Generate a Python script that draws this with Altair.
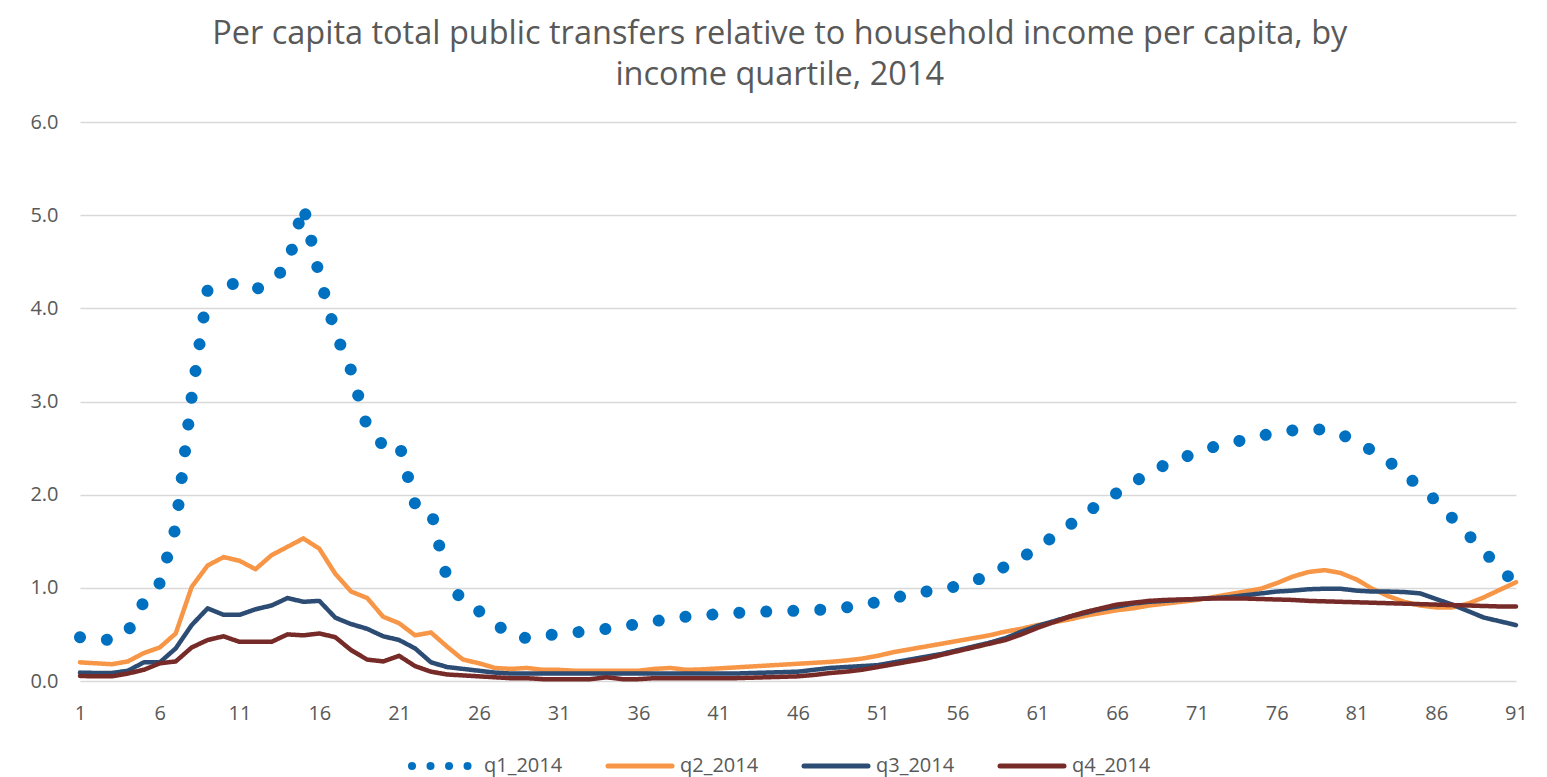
import altair as alt
import pandas as pd

# ---------------- data ----------------
categories = list(range(1, 92))

q1_2014 = [0.47, 0.45, 0.44, 0.53, 0.85, 1.05, 1.65, 3.05, 4.20, 4.25,
           4.27, 4.20, 4.30, 4.45, 5.10, 4.35, 3.74, 3.33, 2.72, 2.53,
           2.55, 1.90, 1.83, 1.10, 0.85, 0.75, 0.62, 0.49, 0.46, 0.49,
           0.50, 0.52, 0.54, 0.56, 0.59, 0.61, 0.64, 0.67, 0.69, 0.70,
           0.72, 0.73, 0.74, 0.745, 0.75, 0.755, 0.76, 0.77, 0.79, 0.81,
           0.85, 0.89, 0.93, 0.96, 0.98, 1.02, 1.07, 1.14, 1.23, 1.32,
           1.43, 1.55, 1.67, 1.80, 1.91, 2.02, 2.13, 2.23, 2.32, 2.39,
           2.45, 2.51, 2.55, 2.59, 2.63, 2.67, 2.69, 2.70, 2.70, 2.65,
           2.57, 2.47, 2.36, 2.22, 2.08, 1.93, 1.75, 1.57, 1.39, 1.21,
           1.04]

q2_2014 = [0.20, 0.19, 0.18, 0.21, 0.30, 0.36, 0.51, 1.01, 1.24, 1.33,
           1.29, 1.20, 1.35, 1.44, 1.53, 1.42, 1.15, 0.96, 0.89, 0.69,
           0.62, 0.49, 0.52, 0.37, 0.23, 0.19, 0.14, 0.13, 0.14, 0.12,
           0.12, 0.11, 0.11, 0.11, 0.11, 0.11, 0.13, 0.14, 0.12, 0.125,
           0.135, 0.145, 0.155, 0.165, 0.175, 0.185, 0.195, 0.205, 0.22, 0.24,
           0.27, 0.31, 0.34, 0.37, 0.40, 0.43, 0.46, 0.49, 0.53, 0.56,
           0.60, 0.63, 0.66, 0.70, 0.73, 0.76, 0.78, 0.81, 0.83, 0.85,
           0.87, 0.90, 0.93, 0.96, 0.99, 1.05, 1.12, 1.17, 1.19, 1.16,
           1.09, 0.99, 0.91, 0.85, 0.81, 0.79, 0.79, 0.83, 0.90, 0.98,
           1.06]

q3_2014 = [0.09, 0.086, 0.086, 0.11, 0.20, 0.20, 0.35, 0.60, 0.78, 0.71,
           0.71, 0.77, 0.81, 0.89, 0.85, 0.86, 0.68, 0.61, 0.56, 0.48,
           0.44, 0.35, 0.20, 0.15, 0.13, 0.11, 0.09, 0.08, 0.08, 0.08,
           0.08, 0.08, 0.08, 0.08, 0.08, 0.08, 0.08, 0.08, 0.08, 0.08,
           0.08, 0.08, 0.085, 0.09, 0.095, 0.10, 0.12, 0.14, 0.15, 0.16,
           0.17, 0.20, 0.23, 0.26, 0.29, 0.33, 0.37, 0.41, 0.46, 0.53,
           0.59, 0.64, 0.69, 0.73, 0.77, 0.80, 0.83, 0.85, 0.86, 0.87,
           0.88, 0.89, 0.90, 0.92, 0.94, 0.96, 0.97, 0.985, 0.99, 0.99,
           0.97, 0.96, 0.96, 0.955, 0.94, 0.88, 0.82, 0.75, 0.68, 0.64,
           0.60]

q4_2014 = [0.054, 0.05, 0.05, 0.08, 0.12, 0.19, 0.21, 0.36, 0.44, 0.48,
           0.42, 0.42, 0.42, 0.50, 0.49, 0.51, 0.47, 0.33, 0.23, 0.21,
           0.27, 0.16, 0.10, 0.07, 0.06, 0.05, 0.04, 0.03, 0.03, 0.02,
           0.02, 0.02, 0.02, 0.04, 0.02, 0.02, 0.03, 0.03, 0.03, 0.03,
           0.03, 0.03, 0.035, 0.04, 0.045, 0.05, 0.065, 0.085, 0.10, 0.12,
           0.15, 0.18, 0.21, 0.24, 0.28, 0.32, 0.36, 0.40, 0.44, 0.50,
           0.57, 0.63, 0.69, 0.74, 0.78, 0.82, 0.84, 0.86, 0.87, 0.875,
           0.88, 0.885, 0.885, 0.885, 0.88, 0.875, 0.87, 0.86, 0.855, 0.85,
           0.845, 0.84, 0.835, 0.83, 0.825, 0.82, 0.815, 0.81, 0.805, 0.80,
           0.80]

series_names = ["q1_2014", "q2_2014", "q3_2014", "q4_2014"]
x_tick_values = list(range(1, 92, 5))
y_tick_values = [0, 1, 2, 3, 4, 5, 6]

title_line1 = "Per capita total public transfers relative to household income per capita, by"
title_line2 = "income quartile, 2014"

# ---------------- styling ----------------
series_colors = ["#0070C0", "#F79646", "#2C4C74", "#772B29"]
dash_range = [[0.01, 27], [1, 0], [1, 0], [1, 0]]
legend_dash_range = [[0.01, 18.5], [1, 0], [1, 0], [1, 0]]
width_range = [12, 4.5, 4.5, 4.5]
legend_width_range = [8, 5, 5, 5]
text_color = "#595959"
font = "Open Sans"

rows = []
for name, vals in zip(series_names, [q1_2014, q2_2014, q3_2014, q4_2014]):
    for c, v in zip(categories, vals):
        rows.append({"age": c, "value": v, "series": name})
df = pd.DataFrame(rows)

color_enc = alt.Color("series:N", scale=alt.Scale(domain=series_names, range=series_colors), legend=None)

lines = alt.Chart(df).mark_line(strokeCap="round", strokeJoin="round").encode(
    x=alt.X("age:Q",
            scale=alt.Scale(domain=[1, 91], nice=False, zero=False),
            axis=alt.Axis(values=x_tick_values, title=None, grid=False, domain=False,
                          ticks=False, tickSize=0, labelFlush=False, labelPadding=22,
                          labelFontSize=20, labelColor=text_color, labelFont=font)),
    y=alt.Y("value:Q",
            scale=alt.Scale(domain=[0, 6], nice=False),
            axis=alt.Axis(values=y_tick_values, format=".1f", title=None, domain=False,
                          ticks=False, tickSize=0, gridColor="#D9D9D9", gridWidth=1.5,
                          labelPadding=22, minExtent=64, maxExtent=64,
                          labelFontSize=20, labelColor=text_color, labelFont=font)),
    color=color_enc,
    strokeDash=alt.StrokeDash("series:N", scale=alt.Scale(domain=series_names, range=dash_range), legend=None),
    strokeWidth=alt.StrokeWidth("series:N", scale=alt.Scale(type="ordinal", domain=series_names, range=width_range), legend=None),
).properties(width=1436, height=559)

# ---------------- legend (drawn as its own small panel) ----------------
leg_df = pd.DataFrame({"series": series_names})
leg_x = alt.X("series:N", scale=alt.Scale(type="point", domain=series_names, range=[332, 920], padding=0), axis=None)
leg_base = alt.Chart(leg_df).encode(x=leg_x, y=alt.value(10))
leg_w = alt.StrokeWidth("series:N", scale=alt.Scale(type="ordinal", domain=series_names, range=legend_width_range), legend=None)
leg_dash = alt.StrokeDash("series:N", scale=alt.Scale(domain=series_names, range=legend_dash_range), legend=None)

leg_dots = leg_base.transform_filter(alt.datum.series == "q1_2014").mark_rule(
    strokeCap="round", x2Offset=56).encode(
    x2=alt.X2("series:N"), color=color_enc, strokeDash=leg_dash, strokeWidth=leg_w)
leg_lines = leg_base.transform_filter(alt.datum.series != "q1_2014").mark_rule(
    strokeCap="round", x2Offset=64).encode(
    x2=alt.X2("series:N"), color=color_enc, strokeWidth=leg_w)
leg_text = leg_base.mark_text(align="left", baseline="middle", dx=72, fontSize=20,
                              font=font, color=text_color).encode(text="series:N")

legend = alt.layer(leg_dots, leg_lines, leg_text).properties(width=1436, height=20)

chart = alt.vconcat(lines, legend, spacing=33).resolve_scale(
    strokeDash="independent", strokeWidth="independent", x="independent"
).properties(
    title=alt.TitleParams(text=title_line1, subtitle=title_line2,
                          fontSize=32.5, font=font, color=text_color, fontWeight="normal",
                          subtitleFontSize=32.5, subtitleFont=font, subtitleColor=text_color,
                          subtitleFontWeight="normal", subtitlePadding=8,
                          anchor="middle", offset=21, dx=8),
    padding={"left": 8, "top": 10, "right": 10, "bottom": 3},
).configure_view(stroke=None)

chart.save("out.html", embed_options={"renderer": "svg", "actions": False})
